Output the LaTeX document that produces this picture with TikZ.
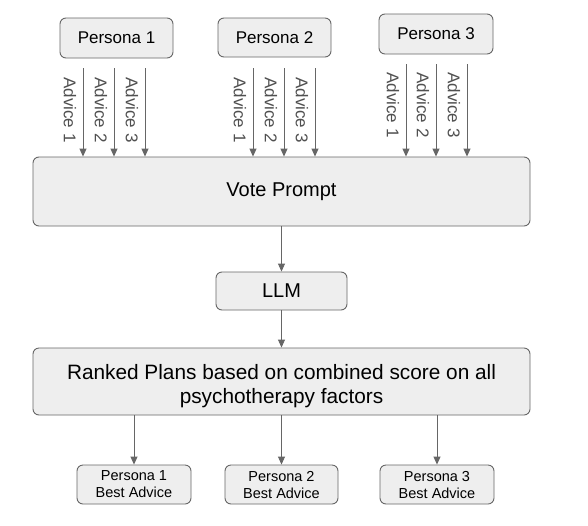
\documentclass[tikz,border=0pt]{standalone}
\usepackage{fontspec}
\usetikzlibrary{arrows.meta}
\setmainfont{Liberation Sans}
\definecolor{boxfill}{HTML}{EEEEEE}
\definecolor{boxline}{HTML}{666666}
\definecolor{lbl}{HTML}{505050}
\begin{document}
\begin{tikzpicture}[x=1pt,y=-1pt,
  box/.style={draw=boxline,fill=boxfill,rounded corners=6pt,line width=0.9pt,inner sep=0pt,align=center,text=black},
  arr/.style={draw=boxline,line width=0.9pt,-{Triangle[length=8pt,width=7pt]}},
  lab/.style={text=lbl,font=\fontsize{17}{17}\selectfont,rotate=-90,inner sep=0pt}]
\useasboundingbox (0,0) rectangle (588,525);
\fill[white] (0,0) rectangle (588,525);
% persona boxes
\node[box,minimum width=113pt,minimum height=40pt,font=\fontsize{17}{17}\selectfont] (p1) at (116.5,38) {Persona 1};
\node[box,minimum width=113pt,minimum height=39pt,font=\fontsize{17}{17}\selectfont] (p2) at (274.5,37.5) {Persona 2};
\node[box,minimum width=114pt,minimum height=40pt,font=\fontsize{17}{17}\selectfont] (p3) at (436,34) {Persona 3};
% vote prompt
\node[box,minimum width=497pt,minimum height=69pt,font=\fontsize{20}{20}\selectfont] (vote) at (281.5,191.5) {Vote Prompt};
\node[box,minimum width=131pt,minimum height=38pt,font=\fontsize{20}{20}\selectfont] (llm) at (281.5,291) {LLM};
\node[box,minimum width=497pt,minimum height=67pt] (rank) at (281.5,381.5) {};
\node[font=\fontsize{20.8}{24}\selectfont,align=center,inner sep=0pt,anchor=center] (ranktext) at (281.5,386) {Ranked Plans based on combined score on all\\psychotherapy factors};
% bottom boxes
\node[box,minimum width=114pt,minimum height=39pt,font=\fontsize{14.5}{17}\selectfont] (b1) at (134,484.5) {Persona 1\\Best Advice};
\node[box,minimum width=113pt,minimum height=39pt,font=\fontsize{14.5}{17}\selectfont] (b2) at (281.5,484.5) {Persona 2\\Best Advice};
\node[box,minimum width=114pt,minimum height=39pt,font=\fontsize{14.5}{17}\selectfont] (b3) at (437,484.5) {Persona 3\\Best Advice};
% advice start coordinates
\coordinate (a11) at (83,68); \coordinate (a12) at (114,68); \coordinate (a13) at (145,68);
\coordinate (a21) at (253,68); \coordinate (a22) at (284,68); \coordinate (a23) at (315,68);
\coordinate (a31) at (406,64); \coordinate (a32) at (436,64); \coordinate (a33) at (467,64);
\foreach \c in {a11,a12,a13,a21,a22,a23,a31,a32,a33}{
  \draw[arr] (\c) -- (\c |- vote.north);
}
% advice labels
\node[lab] (l11) at (70,110) {Advice 1};
\node[lab] (l12) at (101,110) {Advice 2};
\node[lab] (l13) at (132,110) {Advice 3};
\node[lab] (l21) at (240,110) {Advice 1};
\node[lab] (l22) at (271,110) {Advice 2};
\node[lab] (l23) at (302,110) {Advice 3};
\node[lab] (l31) at (393,105) {Advice 1};
\node[lab] (l32) at (423,105) {Advice 2};
\node[lab] (l33) at (454,105) {Advice 3};
% main flow
\draw[arr] (vote.south) -- (llm.north);
\draw[arr] (llm.south) -- (rank.north);
\draw[arr] (b1.north |- rank.south) -- (b1.north);
\draw[arr] (b2.north |- rank.south) -- (b2.north);
\draw[arr] (b3.north |- rank.south) -- (b3.north);
\end{tikzpicture}
\end{document}
